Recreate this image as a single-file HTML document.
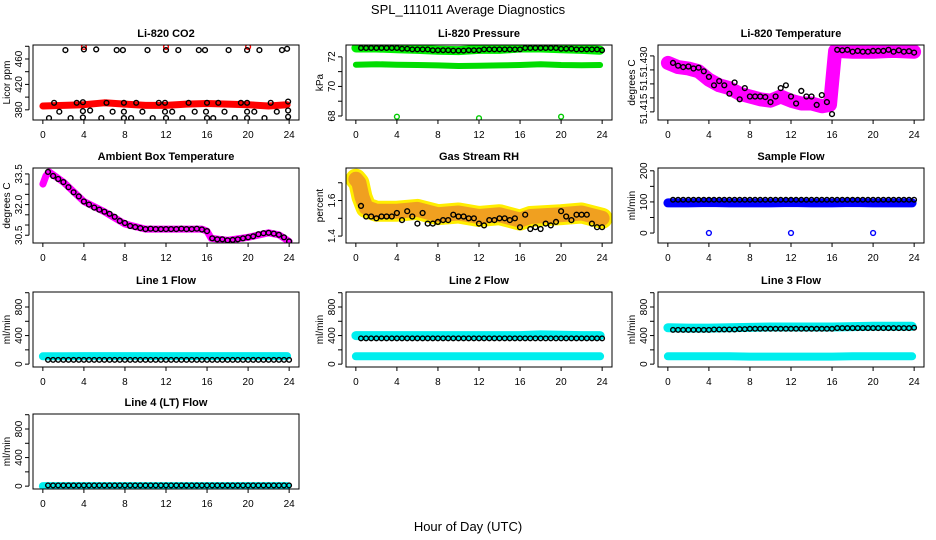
<!DOCTYPE html>
<html><head><meta charset="utf-8"><style>
html,body{margin:0;padding:0;background:#fff;}
svg{display:block;font-family:"Liberation Sans",sans-serif;}
</style></head><body>
<svg id="chart" width="936" height="540" viewBox="0 0 936 540" xmlns="http://www.w3.org/2000/svg">
<text x="468" y="14" text-anchor="middle" font-size="13">SPL_111011  Average Diagnostics</text>
<text x="468" y="531" text-anchor="middle" font-size="13">Hour of Day (UTC)</text>
</svg>
<script>
// ---------- data ----------
const hours48 = [0.5,1,1.5,2,2.5,3,3.5,4,4.5,5,5.5,6,6.5,7,7.5,8,8.5,9,9.5,10,10.5,11,11.5,12,12.5,13,13.5,14,14.5,15,15.5,16,16.5,17,17.5,18,18.5,19,19.5,20,20.5,21,21.5,22,22.5,23,23.5,24];
const xTicks = [0,4,8,12,16,20,24];
const xTickLabels = ["0","4","8","12","16","20","24"];
const spikeHours = [4,12,20];
const bandHours = [0,2,4,6,8,10,12,14,16,18,20,22,23.8];

// CO2
const co2HighHours = [2.2,4.0,5.2,7.2,7.8,10.2,12,13.2,15.2,15.8,18.1,19.9,21.1,23.3,23.8];
const co2HighVals = [474,475,475,474,474,474,474,474,474,474,474,474,474,474,476];
const co2MidHours = [1.1,3.3,3.9,6.2,7.9,9.1,11.3,11.9,14.2,16,17.1,19.3,19.9,22.2,23.9];
const co2MidVals = [391,391,392,391,391,391,391,391,391,391,391,391,391,391,393];
const co2LowHours = [1.6,3.9,4.6,6.8,7.9,9.7,11.9,12.6,14.8,15.9,17.7,19.9,20.6,22.8,23.9];
const co2LowVals = [377,378,379,377,377,377,377,377,377,377,377,377,377,377,379];
const co2MinHours = [0.6,2.7,3.9,5.7,7.9,8.6,10.7,12,13.6,16,16.6,18.7,19.9,21.6,23.9];
const co2MinVals = [367,367,368,367,367,367,367,367,367,367,367,367,367,367,369];
const co2Band = [386,387,388,391,389,387,387,389,390,389,388,386,388];
const co2Spikes = [479,479,479];

// Pressure
const presBlack = [72.6,72.6,72.6,72.6,72.6,72.6,72.6,72.6,72.55,72.55,72.5,72.5,72.5,72.5,72.45,72.45,72.45,72.45,72.42,72.42,72.42,72.45,72.45,72.45,72.5,72.5,72.5,72.5,72.5,72.5,72.5,72.5,72.6,72.6,72.6,72.6,72.6,72.6,72.6,72.55,72.55,72.55,72.5,72.5,72.5,72.5,72.5,72.45];
const presBand = [71.47,71.5,71.47,71.45,71.42,71.38,71.4,71.42,71.45,71.5,71.45,71.43,71.45];
const presSpikes = [67.95,67.85,67.95];

// Li-820 temperature
const tempBlack = [51.4325,51.4315,51.431,51.4312,51.4305,51.4308,51.4295,51.4275,51.4245,51.426,51.4245,51.4215,51.4255,51.4195,51.4235,51.4205,51.4205,51.4205,51.4203,51.4185,51.4205,51.4235,51.4245,51.4205,51.418,51.4225,51.4205,51.4205,51.4175,51.421,51.4185,51.4142,51.4372,51.437,51.4372,51.4365,51.4368,51.4365,51.4365,51.4368,51.4368,51.4368,51.4372,51.4365,51.437,51.4365,51.4367,51.4362];
const tempBandHours = [0,1,2,3,4,5,6,7,8,9,10,11,12,13,14,15,15.8,16.3,18,20,22,24];
const tempBand = [51.4325,51.431,51.4305,51.4295,51.4265,51.4245,51.4235,51.4215,51.4205,51.4195,51.419,51.4205,51.419,51.418,51.418,51.417,51.4175,51.4368,51.4365,51.4365,51.4368,51.4365];

// Ambient box temperature
const ambBlack = [33.6,33.4,33.25,33.1,32.85,32.6,32.4,32.15,32.0,31.85,31.75,31.65,31.55,31.4,31.2,31.1,30.95,30.9,30.85,30.8,30.82,30.8,30.8,30.8,30.8,30.8,30.82,30.8,30.8,30.82,30.78,30.7,30.35,30.3,30.3,30.25,30.27,30.3,30.35,30.4,30.45,30.55,30.6,30.62,30.58,30.52,30.4,30.2];
const ambBandHours = [0,0.3,0.6,2,4,6,8,10,12,14,15.5,16,16.4,18,20,22,23,24];
const ambBand = [33.0,33.4,33.6,33.1,32.15,31.65,31.05,30.8,30.8,30.8,30.8,30.7,30.35,30.25,30.4,30.62,30.52,30.2];

// Gas stream RH
const rhBlack = [1.57,1.51,1.51,1.50,1.51,1.51,1.51,1.53,1.49,1.54,1.51,1.47,1.53,1.47,1.47,1.48,1.49,1.49,1.52,1.51,1.51,1.50,1.50,1.47,1.46,1.49,1.49,1.50,1.50,1.49,1.50,1.45,1.52,1.44,1.45,1.44,1.47,1.46,1.48,1.54,1.51,1.49,1.52,1.52,1.52,1.47,1.45,1.45];
const rhBandHours = [0,0.3,0.6,1,2,4,6,8,10,12,14,16,17,20,22,24];
const rhBand = [1.72,1.70,1.62,1.56,1.54,1.54,1.55,1.52,1.53,1.51,1.52,1.49,1.51,1.52,1.53,1.50];

// Sample flow
const sampleBlack = hours48.map(() => 107);
const sampleBand = [97,97,98,97,97,97,98,97,97,98,97,97,97];
const sampleSpikes = [0,0,0];

// Line flows
const line1Black = hours48.map(() => 60);
const line1Band = [110,110,112,112,112,112,112,112,112,112,112,112,112];
const line2Black = hours48.map(() => 360);
const line2BandHigh = [400,400,400,400,400,400,400,400,400,410,405,400,400];
const line2BandLow = [110,110,110,110,110,110,110,110,110,110,110,110,110];
const line3Black = [480,480,480,480,480,480,480,480,485,485,485,485,485,490,490,495,495,495,495,495,495,495,495,495,495,495,495,495,495,495,495,495,505,505,505,505,505,505,505,505,505,505,505,505,505,505,505,510];
const line3BandHigh = [510,505,505,510,515,520,520,520,520,525,530,530,530];
const line3BandLow = [110,110,110,110,105,105,105,105,105,110,110,110,110];
const line4Black = hours48.map(() => 10);
const line4Band = [0,0,0,0,0,0,0,0,0,0,0,0,0];

// ---------- drawing ----------
const NS = "http://www.w3.org/2000/svg";
const svg = document.getElementById("chart");
const colLeft = [33, 346, 658];
const rowTop = [45, 168, 292, 414];
const BOXW = 266, BOXH = 75;

function mk(tag, attrs, parent) {
  const e = document.createElementNS(NS, tag);
  for (const k in attrs) e.setAttribute(k, attrs[k]);
  (parent || svg).appendChild(e);
  return e;
}

function panel(p) {
  const L = colLeft[p.col], T = rowTop[p.row];
  const g = mk("g", {});
  
  
  const X = h => L + 9.85 + h * (BOXW / 25.92);
  const Y = v => T + BOXH * (p.ymax - v) / (p.ymax - p.ymin);
  const clipId = "clip-" + p.name;
  const cp = mk("clipPath", {id: clipId}, g);
  mk("rect", {x: L, y: T, width: BOXW, height: BOXH}, cp);
  const data = mk("g", {"clip-path": "url(#" + clipId + ")"}, g);
  
  
  (p.bands || []).forEach(b => {
    const d = b.h.map((h, i) => (i ? "L" : "M") + X(h).toFixed(1) + " " + Y(b.v[i]).toFixed(1)).join(" ");
    const pe = mk("path", {d: d, fill: "none", stroke: b.color, "stroke-width": b.w, "stroke-linecap": "round", "stroke-linejoin": "round"}, data);
    
    
  });
  (p.points || []).forEach(s => {
    s.h.forEach((h, i) => {
      const c = mk("circle", {cx: X(h).toFixed(1), cy: Y(s.v[i]).toFixed(1), r: s.r || 2.4, fill: "none", stroke: s.color, "stroke-width": s.sw || 1.4}, data);
      
      
    });
  });
  mk("rect", {x: L, y: T, width: BOXW, height: BOXH, fill: "none", stroke: "#000", "stroke-width": 1}, g);
  const t = mk("text", {x: L + BOXW / 2, y: T - 8, "text-anchor": "middle", "font-size": 11, "font-weight": "bold"}, g);
  t.textContent = p.title;
  
  
  const B = T + BOXH;
  xTicks.forEach((v, i) => {
    mk("line", {x1: X(v), x2: X(v), y1: B, y2: B + 4, stroke: "#000"}, g);
    const tl = mk("text", {x: X(v), y: B + 18, "text-anchor": "middle", "font-size": 10}, g);
    tl.textContent = xTickLabels[i];
    
    
  });
  mk("line", {x1: L - 4, x2: L - 4, y1: Y(p.yticks[0]), y2: Y(p.yticks[p.yticks.length - 1]), stroke: "#000"}, g);
  p.yticks.forEach((v, i) => {
    mk("line", {x1: L - 8, x2: L - 4, y1: Y(v), y2: Y(v), stroke: "#000"}, g);
    const lab = p.ylabels[i];
    if (lab) {
      const yy = Y(v) + (p.yoff ? p.yoff[i] : 0);
      const tl = mk("text", {x: L - 11, y: yy, "text-anchor": "middle", "font-size": 10, transform: "rotate(-90 " + (L - 11) + " " + yy + ")"}, g);
      tl.textContent = lab;
      
      
    }
  });
  const yl = mk("text", {x: L - 23, y: T + BOXH / 2, "text-anchor": "middle", "font-size": 10, transform: "rotate(-90 " + (L - 23) + " " + (T + BOXH / 2) + ")"}, g);
  yl.textContent = p.ylab;
  
  
}

panel({name: "co2-panel", col: 0, row: 0, title: "Li-820 CO2", ylab: "Licor ppm", ymin: 364, ymax: 482,
  yticks: [380, 400, 420, 440, 460, 480], ylabels: ["380", "", "420", "", "460", ""],
  bands: [{name: "co2-band", h: bandHours, v: co2Band, color: "#ff0000", w: 7}],
  points: [
    {name: "co2-spike", h: spikeHours, v: co2Spikes, color: "#ff0000"},
    {name: "co2-high", h: co2HighHours, v: co2HighVals, color: "#000"},
    {name: "co2-mid", h: co2MidHours, v: co2MidVals, color: "#000"},
    {name: "co2-low", h: co2LowHours, v: co2LowVals, color: "#000"},
    {name: "co2-min", h: co2MinHours, v: co2MinVals, color: "#000"}]});

panel({name: "pressure-panel", col: 1, row: 0, title: "Li-820 Pressure", ylab: "kPa", ymin: 67.73, ymax: 72.8,
  yticks: [68, 69, 70, 71, 72], ylabels: ["68", "", "70", "", "72"],
  bands: [{name: "pressure-band-high", h: bandHours, v: bandHours.map((h, i) => presBlack[Math.min(47, Math.round(h * 2))]), color: "#00ee00", w: 9},
          {name: "pressure-band", h: bandHours, v: presBand, color: "#00dd00", w: 6}],
  points: [
    {name: "pressure-spike", h: spikeHours, v: presSpikes, color: "#00cc00"},
    {name: "pressure-avg", h: hours48, v: presBlack, color: "#000", r: 2.3}]});

panel({name: "li820-temp-panel", col: 2, row: 0, title: "Li-820 Temperature", ylab: "degrees C", ymin: 51.4121, ymax: 51.4389,
  yticks: [51.415, 51.420, 51.425, 51.430, 51.435], ylabels: ["51.415", "", "51.", "", "51.430"], yoff: [-3, 0, 0, 0, 6],
  bands: [{name: "li820-temp-band", h: tempBandHours, v: tempBand, color: "#ff00ff", w: 14}],
  points: [{name: "li820-temp-avg", h: hours48, v: tempBlack, color: "#000"}]});

panel({name: "ambient-temp-panel", col: 0, row: 1, title: "Ambient Box Temperature", ylab: "degrees C", ymin: 30.12, ymax: 33.79,
  yticks: [30.5, 31.0, 31.5, 32.0, 32.5, 33.0, 33.5], ylabels: ["30.5", "", "", "32.0", "", "", "33.5"],
  bands: [{name: "ambient-temp-band", h: ambBandHours, v: ambBand, color: "#ff00ff", w: 7}],
  points: [{name: "ambient-temp-avg", h: hours48, v: ambBlack, color: "#000"}]});

panel({name: "rh-panel", col: 1, row: 1, title: "Gas Stream RH", ylab: "percent", ymin: 1.361, ymax: 1.783,
  yticks: [1.4, 1.5, 1.6, 1.7], ylabels: ["1.4", "", "1.6", ""],
  bands: [{name: "rh-band-outer", h: rhBandHours, v: rhBand, color: "#ffee00", w: 21},
          {name: "rh-band", h: rhBandHours, v: rhBand, color: "#f0a020", w: 15}],
  points: [{name: "rh-avg", h: hours48, v: rhBlack, color: "#000"}]});

panel({name: "sample-flow-panel", col: 2, row: 1, title: "Sample Flow", ylab: "ml/min", ymin: -32, ymax: 209,
  yticks: [0, 50, 100, 150, 200], ylabels: ["0", "", "100", "", "200"],
  bands: [{name: "sample-flow-band", h: bandHours, v: sampleBand, color: "#0000ff", w: 9}],
  points: [{name: "sample-flow-spike", h: spikeHours, v: sampleSpikes, color: "#0000ff"},
           {name: "sample-flow-avg", h: hours48, v: sampleBlack, color: "#000", r: 2.3}]});

const flowTicks = [0, 200, 400, 600, 800, 1000];
const flowLabels = ["0", "", "400", "", "800", ""];

panel({name: "line1-flow-panel", col: 0, row: 2, title: "Line 1 Flow", ylab: "ml/min", ymin: -40, ymax: 1010,
  yticks: flowTicks, ylabels: flowLabels,
  bands: [{name: "line1-band", h: bandHours, v: line1Band, color: "#00eeee", w: 8}],
  points: [{name: "line1-avg", h: hours48, v: line1Black, color: "#000", r: 2.3}]});

panel({name: "line2-flow-panel", col: 1, row: 2, title: "Line 2 Flow", ylab: "ml/min", ymin: -40, ymax: 1010,
  yticks: flowTicks, ylabels: flowLabels,
  bands: [{name: "line2-band-high", h: bandHours, v: line2BandHigh, color: "#00eeee", w: 9},
          {name: "line2-band-low", h: bandHours, v: line2BandLow, color: "#00eeee", w: 8}],
  points: [{name: "line2-avg", h: hours48, v: line2Black, color: "#000", r: 2.3}]});

panel({name: "line3-flow-panel", col: 2, row: 2, title: "Line 3 Flow", ylab: "ml/min", ymin: -40, ymax: 1010,
  yticks: flowTicks, ylabels: flowLabels,
  bands: [{name: "line3-band-high", h: bandHours, v: line3BandHigh, color: "#00eeee", w: 9},
          {name: "line3-band-low", h: bandHours, v: line3BandLow, color: "#00eeee", w: 8}],
  points: [{name: "line3-avg", h: hours48, v: line3Black, color: "#000", r: 2.3}]});

panel({name: "line4-flow-panel", col: 0, row: 3, title: "Line 4 (LT) Flow", ylab: "ml/min", ymin: -40, ymax: 1010,
  yticks: flowTicks, ylabels: flowLabels,
  bands: [{name: "line4-band", h: bandHours, v: line4Band, color: "#00eeee", w: 8}],
  points: [{name: "line4-avg", h: hours48, v: line4Black, color: "#000", r: 2.3}]});
</script>
</body></html>
